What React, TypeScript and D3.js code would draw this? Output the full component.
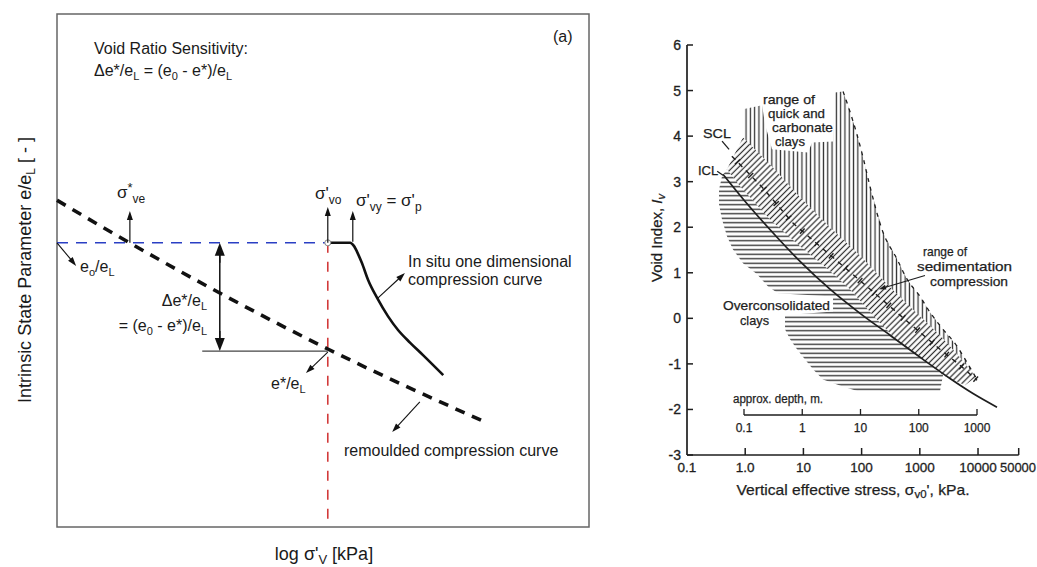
import React from 'react';
import * as d3 from 'd3';

type P = [number, number];

// ---------- Left panel (schematic, normalised units 0–100) ----------
const remouldedLine: P[] = [[0, 63.7], [13.3, 55.6], [50.9, 34.7], [80.8, 20.3]];
const inSituCurve: P[] = [
  [50.9, 55.4], [55.1, 55.4], [55.8, 54.8], [56.6, 53.2], [57.3, 51.5], [58.5, 48.1],
  [60.2, 44.6], [62.2, 41.1], [64.1, 38.4], [66.4, 35.9], [68.8, 33.5], [72.6, 29.6],
];
const e0Level = 55.4;
const eStarLevel = 34.3;
const sigmaVo = 50.9;
const sigmaVe = 13.7;
const sigmaVy = 55.6;
const deltaArrowX = 30.6;
const eStarLineStart = 27.3;
const sigmaArrowTop = 61.6;
const labelArrows: { from: P; to: P }[] = [
  { from: [0, 55.4], to: [3.6, 50.9] },
  { from: [50.9, 34.1], to: [46.8, 30.0] },
  { from: [60.3, 44.6], to: [65.4, 49.5] },
  { from: [68.2, 24.4], to: [63.0, 18.5] },
];

// ---------- Right panel (void index vs vertical effective stress) ----------
const stressTicks = [0.1, 1, 10, 100, 1000, 10000, 50000];
const stressTickLabels = ['0.1', '1.0', '10', '100', '1000', '10000', '50000'];
const voidTicks = [-3, -2, -1, 0, 1, 2, 3, 4, 5, 6];
const depthTicks = [0.1, 1, 10, 100, 1000];
const depthTickLabels = ['0.1', '1', '10', '100', '1000'];

const iclCurve: P[] = [
  [0.416, 3.16], [0.99, 2.57], [3.52, 1.78], [8.75, 1.25], [28.6, 0.64], [94, 0.11],
  [308, -0.37], [1135, -0.9], [3304, -1.32], [8204, -1.65], [21180, -1.95],
];
const sclCurve: P[] = [
  [0.59, 3.56], [1.95, 2.88], [6.62, 2.09], [19.3, 1.58], [94, 0.83], [457, 0.07],
  [2223, -0.68], [4908, -1.03], [9616, -1.36],
];
const bandUpper: P[] = [
  [0.916, 3.97], [3.0, 3.31], [8.75, 2.66], [28.6, 2.0], [94, 1.38], [308, 0.68],
  [828, 0.15], [2223, -0.37], [4908, -0.86], [9245, -1.29],
];
const bandLower: P[] = [
  [0.486, 3.27], [0.815, 2.9], [2.67, 2.17], [8.75, 1.58], [23.5, 1.14], [63.2, 0.64],
  [170, 0.02], [457, -0.55], [1135, -0.9], [2505, -1.25], [5984, -1.47],
];
const quickTop: P[] = [
  [0.916, 4.59], [1.95, 4.68], [2.19, 4.26], [2.89, 3.71], [12.0, 3.64], [14.1, 3.86],
  [32.3, 3.88], [34.9, 4.96],
];
const quickRight: P[] = [
  [48, 4.98], [63, 4.54], [83, 4.04], [106, 3.53], [139, 2.9], [233, 1.89], [406, 1.3],
  [603, 0.86], [1007, 0.48], [1500, 0.13], [2500, -0.24], [4350, -0.61], [6470, -0.97], [9600, -1.34],
];
const ocLeft: P[] = [
  [0.4, 3.12], [0.355, 2.83], [0.355, 2.5], [0.4, 2.17], [0.486, 1.8], [0.617, 1.51],
  [0.916, 1.21], [1.6, 0.97], [2.47, 0.7], [3.66, 0.55], [32.3, 0.48], [32.3, 0.15],
  [4.83, 0.07], [4.83, -0.24], [5.89, -0.46], [7.76, -0.68], [10.6, -0.9], [14.6, -1.12],
  [21.7, -1.34], [46.0, -1.49], [86.7, -1.6], [2223, -1.6],
];
const sclLeader: P[] = [[0.4, 3.89], [0.528, 3.71]];
const iclLeader: P[] = [[0.33, 3.23], [0.416, 3.14]];
const sedimentArrow: { from: P; to: P } = { from: [1227, 0.94], to: [199, 0.64] };

const FONT = "'Liberation Sans', Arial, Helvetica, sans-serif";

function Arrow({ x1, y1, x2, y2, w = 6, l = 9, sw = 1.2, color = '#111' }:
  { x1: number; y1: number; x2: number; y2: number; w?: number; l?: number; sw?: number; color?: string }) {
  const a = Math.atan2(y2 - y1, x2 - x1);
  const bx = x2 - l * Math.cos(a), by = y2 - l * Math.sin(a);
  const px = (-Math.sin(a) * w) / 2, py = (Math.cos(a) * w) / 2;
  return (
    <g>
      <line x1={x1} y1={y1} x2={bx + Math.cos(a) * 1} y2={by + Math.sin(a) * 1} stroke={color} strokeWidth={sw} />
      <polygon points={`${x2},${y2} ${bx + px},${by + py} ${bx - px},${by - py}`} fill={color} />
    </g>
  );
}

function ticksAlong(pts: P[], step: number, offset: number) {
  const out: { x: number; y: number; ux: number; uy: number }[] = [];
  let acc = offset;
  for (let i = 0; i < pts.length - 1; i++) {
    const [x0, y0] = pts[i], [x1, y1] = pts[i + 1];
    const seg = Math.hypot(x1 - x0, y1 - y0);
    let d = acc;
    while (d <= seg) {
      const t = d / seg;
      out.push({ x: x0 + t * (x1 - x0), y: y0 + t * (y1 - y0), ux: (x1 - x0) / seg, uy: (y1 - y0) / seg });
      d += step;
    }
    acc = d - seg;
  }
  return out;
}

export default function App() {
  React.useEffect(() => { document.body.style.margin = '0'; }, []);

  const lx = d3.scaleLinear().domain([0, 100]).range([57, 589]);
  const ly = d3.scaleLinear().domain([0, 100]).range([527, 14]);
  const rx = d3.scaleLog().domain([0.1, 50000]).range([687, 1018.7]);
  const ry = d3.scaleLinear().domain([-3, 6]).range([455, 45]);
  const depthX = d3.scaleLog().domain([0.1, 1000]).range([744, 977]);

  const lineLeft = d3.line<P>().x(d => lx(d[0])).y(d => ly(d[1])).curve(d3.curveMonotoneX);
  const lineRightSmooth = d3.line<P>().x(d => rx(d[0])).y(d => ry(d[1])).curve(d3.curveMonotoneX);
  const lineRight = d3.line<P>().x(d => rx(d[0])).y(d => ry(d[1]));
  const poly = (pts: P[]) => (lineRight(pts) || '') + 'Z';

  const hPoly = [...ocLeft, ...bandLower.slice(0, 10).reverse()];
  const bandPoly = [...bandLower, ...bandUpper.slice().reverse()];
  const vPoly = [...quickTop, ...quickRight, ...bandUpper.slice().reverse()];

  const sclPx: P[] = sclCurve.map(d => [rx(d[0]), ry(d[1])]);
  const sclTicks = ticksAlong(sclPx, 19, 8);

  const ink = '#1e1e1e';
  const hatch = '#2e2e2e';

  return (
    <svg width={1037} height={567} style={{ position: 'absolute', left: 0, top: 0, background: '#fff' }}
      fontFamily={FONT}>
      <defs>
        <pattern id="hpat" width={8} height={4.5} patternUnits="userSpaceOnUse">
          <line x1={0} y1={2.25} x2={8} y2={2.25} stroke={hatch} strokeWidth={1.35} />
        </pattern>
        <pattern id="vpat" width={4.3} height={8} patternUnits="userSpaceOnUse">
          <line x1={2.15} y1={0} x2={2.15} y2={8} stroke={hatch} strokeWidth={1.25} />
        </pattern>
        <pattern id="dpat" width={8} height={4.2} patternUnits="userSpaceOnUse" patternTransform="rotate(-45)">
          <line x1={0} y1={2.1} x2={8} y2={2.1} stroke={hatch} strokeWidth={1.25} />
        </pattern>
      </defs>
      <rect width={1037} height={567} fill="#fff" />

      {/* ================= LEFT PANEL ================= */}
      <rect x={lx(0)} y={ly(100)} width={lx(100) - lx(0)} height={ly(0) - ly(100)} fill="none" stroke="#666" strokeWidth={1.5} />

      <line x1={lx(0)} y1={ly(e0Level)} x2={lx(sigmaVo)} y2={ly(e0Level)} stroke="#2a3fc4" strokeWidth={1.6} strokeDasharray="11,8" />
      <line x1={lx(sigmaVo)} y1={ly(e0Level)} x2={lx(sigmaVo)} y2={ly(0)} stroke="#d23a3a" strokeWidth={1.6} strokeDasharray="10,9" />
      <path d={lineLeft(remouldedLine) || ''} fill="none" stroke="#111" strokeWidth={3.6} strokeDasharray="10,8" />
      <path d={lineLeft(inSituCurve) || ''} fill="none" stroke="#111" strokeWidth={2.6} />
      <circle cx={lx(sigmaVo)} cy={ly(e0Level)} r={3} fill="#fff" stroke="#888" strokeWidth={1} />

      <Arrow x1={lx(sigmaVe)} y1={ly(e0Level)} x2={lx(sigmaVe)} y2={ly(sigmaArrowTop)} />
      <Arrow x1={lx(sigmaVo)} y1={ly(e0Level)} x2={lx(sigmaVo)} y2={ly(sigmaArrowTop) - 4} />
      <Arrow x1={lx(sigmaVy)} y1={ly(e0Level) - 1} x2={lx(sigmaVy)} y2={ly(sigmaArrowTop)} />

      <line x1={lx(deltaArrowX)} y1={ly(e0Level) + 10} x2={lx(deltaArrowX)} y2={ly(eStarLevel) - 10} stroke="#111" strokeWidth={1.5} />
      <Arrow x1={lx(deltaArrowX)} y1={ly(e0Level) + 20} x2={lx(deltaArrowX)} y2={ly(e0Level)} w={10} l={13} sw={1.5} />
      <Arrow x1={lx(deltaArrowX)} y1={ly(eStarLevel) - 20} x2={lx(deltaArrowX)} y2={ly(eStarLevel)} w={10} l={13} sw={1.5} />
      <line x1={lx(eStarLineStart)} y1={ly(eStarLevel)} x2={lx(sigmaVo)} y2={ly(eStarLevel)} stroke="#444" strokeWidth={1.3} />

      {labelArrows.map((a, i) => (
        <Arrow key={i} x1={lx(a.from[0])} y1={ly(a.from[1])} x2={lx(a.to[0])} y2={ly(a.to[1])} w={6} l={9} sw={1.1} />
      ))}

      <g fill="#1a1a1a" fontSize={16}>
        <text x={94} y={54}>Void Ratio Sensitivity:</text>
        <text x={94} y={76}>Δe*/e<tspan dy={4} fontSize={11}>L</tspan><tspan dy={-4}> = (e</tspan><tspan dy={4} fontSize={11}>0</tspan><tspan dy={-4}> - e*)/e</tspan><tspan dy={4} fontSize={11}>L</tspan></text>
        <text x={553} y={42}>(a)</text>
        <text x={117} y={198} fontSize={17}>σ<tspan dy={-6} fontSize={13}>*</tspan><tspan dy={11} fontSize={12}>ve</tspan></text>
        <text x={315} y={199} fontSize={17}>σ'<tspan dy={5} fontSize={12}>vo</tspan></text>
        <text x={356} y={206} fontSize={17}>σ'<tspan dy={5} fontSize={12}>vy</tspan><tspan dy={-5}> = σ'</tspan><tspan dy={5} fontSize={12}>p</tspan></text>
        <text x={80} y={272}>e<tspan dy={4} fontSize={11}>o</tspan><tspan dy={-4}>/e</tspan><tspan dy={4} fontSize={11}>L</tspan></text>
        <text x={207} y={306} textAnchor="end">Δe*/e<tspan dy={4} fontSize={11}>L</tspan></text>
        <text x={207} y={331} textAnchor="end">= (e<tspan dy={4} fontSize={11}>0</tspan><tspan dy={-4}> - e*)/e</tspan><tspan dy={4} fontSize={11}>L</tspan></text>
        <text x={271} y={389}>e*/e<tspan dy={4} fontSize={11}>L</tspan></text>
        <text x={408} y={267}>In situ one dimensional</text>
        <text x={408} y={285}>compression curve</text>
        <text x={344} y={456}>remoulded compression curve</text>
        <text x={324} y={560} fontSize={18} textAnchor="middle">log σ'<tspan dy={4} fontSize={13}>V</tspan><tspan dy={-4}> [kPa]</tspan></text>
        <text transform="translate(31,270) rotate(-90)" fontSize={18} textAnchor="middle">Intrinsic State Parameter e/e<tspan dy={4} fontSize={12}>L</tspan><tspan dy={-4}> [ - ]</tspan></text>
      </g>

      {/* ================= RIGHT PANEL ================= */}
      <path d={poly(vPoly)} fill="url(#vpat)" stroke="none" />
      <path d={poly(hPoly)} fill="url(#hpat)" stroke="none" />
      <path d={poly(bandPoly)} fill="url(#dpat)" stroke="none" />

      <path d={lineRightSmooth(quickRight) || ''} fill="none" stroke={ink} strokeWidth={1.3} strokeDasharray="4,5" />

      <path d={lineRight(sclCurve) || ''} fill="none" stroke={ink} strokeWidth={1.4} strokeDasharray="5,5" />
      {sclTicks.map((t, i) => (
        <line key={i} x1={t.x - t.uy * 3.5} y1={t.y + t.ux * 3.5} x2={t.x + t.uy * 3.5} y2={t.y - t.ux * 3.5} stroke={ink} strokeWidth={1.4} />
      ))}
      <path d={lineRightSmooth(iclCurve) || ''} fill="none" stroke={ink} strokeWidth={1.7} />
      <path d={lineRight(sclLeader) || ''} fill="none" stroke={ink} strokeWidth={1.3} />
      <path d={lineRight(iclLeader) || ''} fill="none" stroke={ink} strokeWidth={1.3} />
      <Arrow x1={rx(sedimentArrow.from[0])} y1={ry(sedimentArrow.from[1])} x2={rx(sedimentArrow.to[0])} y2={ry(sedimentArrow.to[1])} w={5} l={7} sw={1.2} color={ink} />

      <line x1={rx(0.1)} y1={ry(6)} x2={rx(0.1)} y2={ry(-3)} stroke={ink} strokeWidth={1.7} />
      <line x1={rx(0.1)} y1={ry(-3)} x2={rx(50000)} y2={ry(-3)} stroke={ink} strokeWidth={1.7} />
      <g fill={ink} stroke={ink} strokeWidth={0.3}>
        {voidTicks.map(v => (
          <g key={v}>
            <line x1={rx(0.1)} y1={ry(v)} x2={rx(0.1) + 6} y2={ry(v)} stroke={ink} strokeWidth={1.5} />
            <text x={681} y={ry(v) + 5} textAnchor="end" fontSize={14}>{v}</text>
          </g>
        ))}
        {stressTicks.map((s, i) => (
          <g key={s}>
            {i > 0 && <line x1={rx(s)} y1={ry(-3)} x2={rx(s)} y2={ry(-3) - 7} stroke={ink} strokeWidth={1.5} />}
            {i === stressTicks.length - 1
              ? <text x={1000} y={472} fontSize={13.5} textLength={36} lengthAdjust="spacingAndGlyphs">{stressTickLabels[i]}</text>
              : <text x={rx(s)} y={472} textAnchor="middle" fontSize={13.5}>{stressTickLabels[i]}</text>}
          </g>
        ))}
      </g>
      <line x1={depthX(0.1)} y1={415} x2={depthX(1000)} y2={415} stroke={ink} strokeWidth={1.5} />
      <g fill={ink} stroke={ink} strokeWidth={0.25}>
        {depthTicks.map((d, i) => (
          <g key={d}>
            <line x1={depthX(d)} y1={415} x2={depthX(d)} y2={409} stroke={ink} strokeWidth={1.3} />
            <text x={depthX(d)} y={432} textAnchor="middle" fontSize={12}>{depthTickLabels[i]}</text>
          </g>
        ))}
        <text x={733} y={403} fontSize={12} textLength={90} lengthAdjust="spacingAndGlyphs">approx. depth, m.</text>
      </g>

      <g fill={ink} stroke={ink} strokeWidth={0.25} fontSize={13}>
        <text x={763} y={104} textLength={52} lengthAdjust="spacingAndGlyphs">range of</text>
        <text x={768} y={118} textLength={57} lengthAdjust="spacingAndGlyphs">quick and</text>
        <text x={772} y={132} textLength={61} lengthAdjust="spacingAndGlyphs">carbonate</text>
        <text x={775} y={146} textLength={30} lengthAdjust="spacingAndGlyphs">clays</text>
        <text x={703} y={138} textLength={28} lengthAdjust="spacingAndGlyphs">SCL</text>
        <text x={698} y={175}>ICL</text>
        <text x={923} y={256} textLength={44} lengthAdjust="spacingAndGlyphs">range of</text>
        <text x={917} y={271} textLength={95} lengthAdjust="spacingAndGlyphs">sedimentation</text>
        <text x={930} y={286} textLength={78} lengthAdjust="spacingAndGlyphs">compression</text>
        <text x={723} y={310} textLength={107} lengthAdjust="spacingAndGlyphs">Overconsolidated</text>
        <text x={740} y={325} textLength={29} lengthAdjust="spacingAndGlyphs">clays</text>
      </g>

      <text x={853} y={495} textAnchor="middle" fontSize={15} fill={ink} stroke={ink} strokeWidth={0.25} textLength={233} lengthAdjust="spacingAndGlyphs">Vertical effective stress, σ<tspan dy={3} fontSize={11}>v0</tspan><tspan dy={-3}>', kPa.</tspan></text>
      <text transform="translate(662,238) rotate(-90)" textAnchor="middle" fontSize={15} fill={ink} stroke={ink} strokeWidth={0.25}>Void Index, <tspan fontStyle="italic">I</tspan><tspan dy={3} fontSize={11} fontStyle="italic">v</tspan></text>
    </svg>
  );
}
